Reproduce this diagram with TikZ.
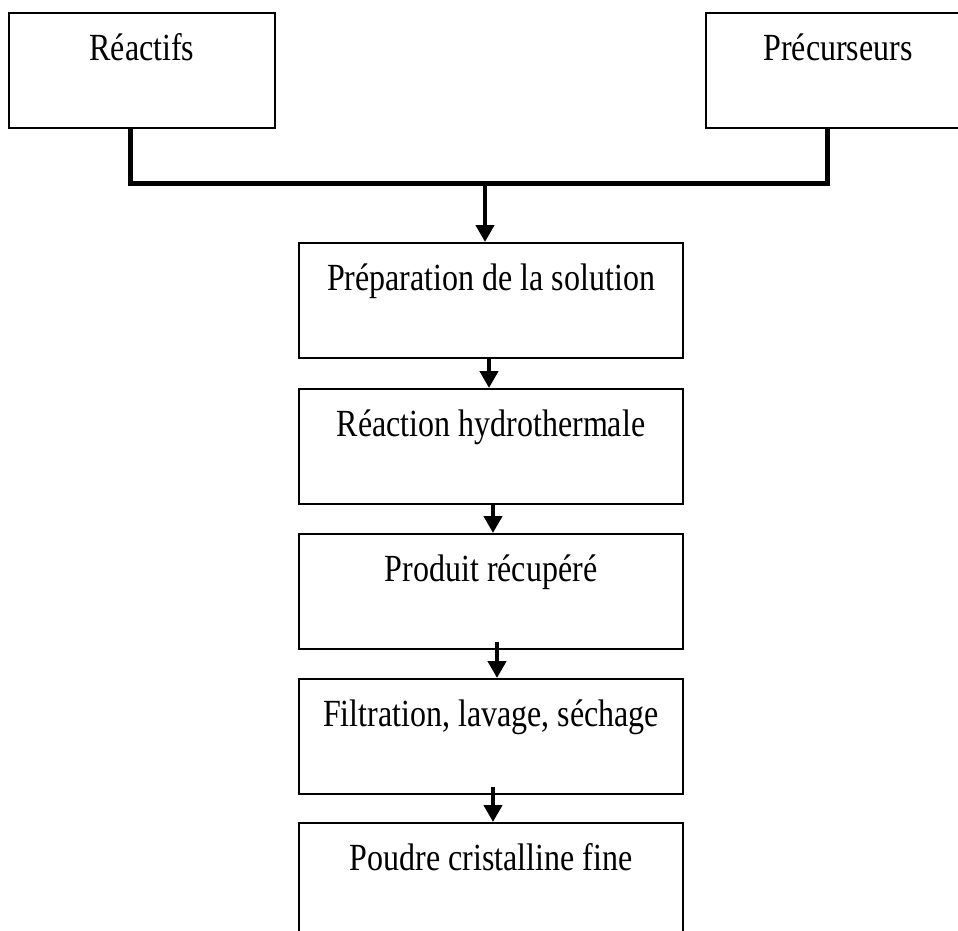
\documentclass[tikz,border=0pt]{standalone}
\usepackage{fontspec}
\setmainfont{Liberation Serif}
\usetikzlibrary{arrows.meta}
\newcommand{\tallText}[1]{\scalebox{1}[1.2]{#1}}

\begin{document}
\begin{tikzpicture}[x = 1pt, y = -1pt,
        box/.style = {draw, line width = 1.6pt, inner sep = 0pt, text height = 48pt, text depth = 67pt, anchor = north, font = \fontsize{32}{38}\selectfont},
        step box/.style = {box, minimum width = 384pt},
        bus/.style = {line width = 5pt},
        flow/.style = {line width = 4.5pt, -{Triangle[width = 18pt, length = 17pt]}}]
        \useasboundingbox (0, 0) rectangle (958, 931);
        \node[box, minimum width = 266pt](reac) at (142, 12){\tallText{Réactifs}};
        \node[box, minimum width = 264pt](prec) at (838, 12){\tallText{Précurseurs}};
        \node[step box](prep) at (491, 242){\tallText{Préparation de la solution}};
        \node[step box](hydro) at (491, 388){\tallText{Réaction hydrothermale}};
        \node[step box](prod) at (491, 533){\tallText{Produit récupéré}};
        \node[step box](filt) at (491, 678){\tallText{Filtration, lavage, séchage}};
        \node[step box](poudre) at (491, 822){\tallText{Poudre cristalline fine}};
        \coordinate(join) at (485, 183);
        \draw[bus] ([xshift = -12pt]reac.south) |- (join) -| ([xshift = -11pt]prec.south);
        \draw[flow] (join) -- (prep.north -| join);
        \draw[flow] ([xshift = -2pt]prep.south) -- ([xshift = -2pt]hydro.north);
        \draw[flow] ([xshift = 2pt]hydro.south) -- ([xshift = 2pt]prod.north);
        \draw[flow] ([xshift = 6pt, yshift = 8pt]prod.south) -- ([xshift = 6pt]filt.north);
        \draw[flow] ([xshift = 2pt, yshift = 8pt]filt.south) -- ([xshift = 2pt]poudre.north);
    \end{tikzpicture}
\end{document}
